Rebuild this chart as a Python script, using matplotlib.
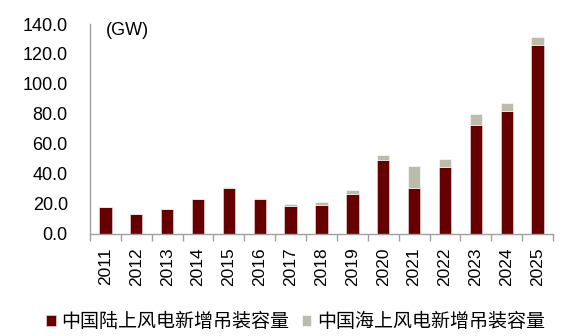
import numpy as np
import matplotlib.pyplot as plt

plt.rcParams['font.family'] = ['Liberation Sans', 'Noto Sans CJK SC', 'DejaVu Sans']

years = ['2011', '2012', '2013', '2014', '2015', '2016', '2017', '2018',
         '2019', '2020', '2021', '2022', '2023', '2024', '2025']
onshore = [17.5, 12.8, 16.2, 23.1, 30.6, 23.1, 18.5, 19.3,
           26.4, 49.1, 30.6, 44.7, 72.3, 81.7, 125.8]
offshore = [0.0, 0.0, 0.0, 0.0, 0.4, 0.4, 1.2, 1.8,
            2.5, 3.2, 14.5, 5.1, 7.6, 5.5, 5.7]
labels = ['中国陆上风电新增吊装容量', '中国海上风电新增吊装容量']
c_on = '#660000'
c_off = '#BDBBAA'

fig = plt.figure(figsize=(5.85, 3.36), dpi=100)
ax = fig.add_axes([0.1538, 0.305, 0.7915, 0.6235])

x = np.arange(len(years))
ax.bar(x, onshore, width=0.4, color=c_on, edgecolor='#f3e6e6', linewidth=0.4, label=labels[0])
ax.bar(x, offshore, width=0.4, bottom=onshore, color=c_off, edgecolor='white', linewidth=0.4, label=labels[1])

ax.set_xlim(-0.5, len(years) - 0.5)
ax.set_ylim(0, 140)
ax.set_yticks(np.arange(0, 141, 20))
ax.set_yticklabels(['%.1f' % v for v in np.arange(0, 141, 20)], fontsize=13)
ax.tick_params(axis='y', length=0, pad=16)

ax.set_xticks(x)
ax.set_xticklabels(years, rotation=90, fontsize=12.5)
ax.set_xticks(np.arange(-0.5, len(years), 1), minor=True)
ax.tick_params(axis='x', which='major', length=0, pad=10)
ax.tick_params(axis='x', which='minor', length=5, color='#a0a0a0', width=1)

for s in ['top', 'right']:
    ax.spines[s].set_visible(False)
for s in ['left', 'bottom']:
    ax.spines[s].set_color('#a0a0a0')
    ax.spines[s].set_linewidth(1)

ax.text(0.035, 0.97, '(GW)', transform=ax.transAxes, fontsize=13, va='center', ha='left')

fig.legend(loc='center', bbox_to_anchor=(0.505, 0.042), ncol=2, frameon=False,
           fontsize=13.7, handlelength=0.5, handleheight=0.5, handletextpad=0.3,
           columnspacing=0.65)

fig.savefig('out.png', dpi=100)
